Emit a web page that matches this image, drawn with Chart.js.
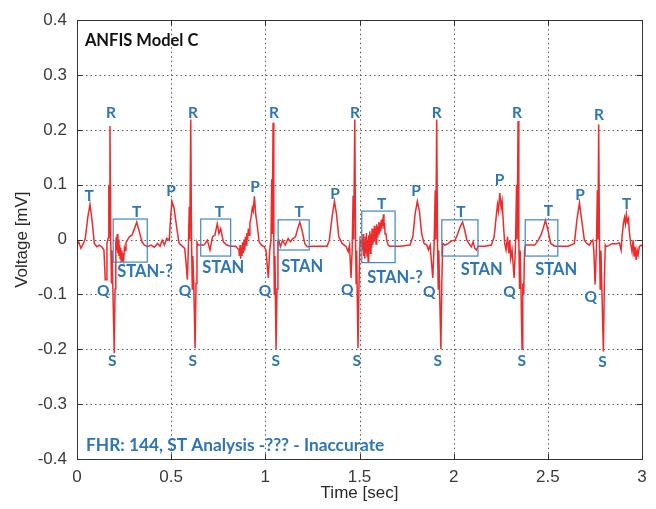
<!DOCTYPE html>
<html>
<head>
<meta charset="utf-8">
<script src="https://cdn.jsdelivr.net/npm/chart.js@4.4.0/dist/chart.umd.min.js"></script>
<style>
  body { margin: 0; background: #fff; }
  canvas { display: block; }
</style>
</head>
<body>
<canvas id="ecg" width="656" height="509"></canvas>
<script>
// axis ticks
const xTicks = [0, 0.5, 1, 1.5, 2, 2.5, 3];
const yTicks = [-0.4, -0.3, -0.2, -0.1, 0, 0.1, 0.2, 0.3, 0.4];

// fetal ECG trace, time in seconds and amplitude in mV
const timeSec = [
  0.000, 0.009, 0.021, 0.034, 0.044, 0.057, 0.069, 0.080, 0.092, 0.105, 0.119, 0.133, 0.143,
  0.150, 0.155, 0.159, 0.166, 0.169, 0.171, 0.175, 0.179, 0.183, 0.186, 0.198, 0.202, 0.206,
  0.209, 0.211, 0.214, 0.217, 0.220, 0.223, 0.226, 0.229, 0.232, 0.235, 0.238, 0.241, 0.244, 0.248, 0.252, 0.256, 0.260,
  0.278, 0.292, 0.305, 0.317, 0.331, 0.345, 0.358, 0.375, 0.393, 0.411, 0.428, 0.441, 0.452, 0.464, 0.476, 0.490, 0.496, 0.504, 0.515, 0.529, 0.542, 0.559, 0.572, 0.579,
  0.586, 0.591, 0.596, 0.599, 0.604, 0.608, 0.612, 0.615, 0.620, 0.627, 0.632, 0.637,
  0.643, 0.657, 0.674, 0.692, 0.706, 0.719, 0.732, 0.745, 0.754, 0.763, 0.777, 0.795, 0.816, 0.843, 0.860,
  0.862, 0.866, 0.869, 0.872, 0.876, 0.879, 0.883, 0.887, 0.890, 0.894, 0.898, 0.902, 0.906, 0.910, 0.914, 0.918, 0.924, 0.931, 0.936, 0.942, 0.949, 0.958, 0.967, 0.979, 0.994, 1.003,
  1.016, 1.023, 1.030, 1.034, 1.037, 1.041, 1.045, 1.048, 1.051, 1.057, 1.062, 1.067,
  1.071, 1.080, 1.092, 1.106, 1.121, 1.133, 1.146, 1.160, 1.172, 1.183, 1.195, 1.209, 1.222, 1.248, 1.284, 1.328, 1.340, 1.354, 1.367, 1.378, 1.390, 1.408, 1.429, 1.440, 1.447,
  1.455, 1.461, 1.466, 1.469, 1.475, 1.479, 1.482, 1.485, 1.492, 1.497, 1.503, 1.510,
  1.512, 1.516, 1.519, 1.522, 1.525, 1.528, 1.531, 1.534, 1.537, 1.540, 1.543, 1.546, 1.549, 1.552, 1.555,
  1.558, 1.561, 1.564, 1.567, 1.570, 1.573, 1.576, 1.579, 1.582, 1.585, 1.588, 1.591, 1.594, 1.597, 1.600,
  1.603, 1.606, 1.609, 1.612, 1.615, 1.618, 1.621, 1.624, 1.627, 1.630, 1.633, 1.636, 1.640, 1.645, 1.652,
  1.662, 1.715, 1.768, 1.783, 1.795, 1.807, 1.818, 1.830, 1.843, 1.857, 1.866, 1.875,
  1.889, 1.896, 1.902, 1.905, 1.910, 1.914, 1.918, 1.921, 1.932, 1.937, 1.942,
  1.954, 1.972, 1.990, 2.008, 2.022, 2.034, 2.047, 2.059, 2.070, 2.087, 2.094, 2.103, 2.112, 2.121, 2.130, 2.165,
  2.200, 2.215, 2.227, 2.233, 2.238, 2.245, 2.252, 2.257, 2.264, 2.271, 2.278, 2.286, 2.293, 2.298, 2.303, 2.310,
  2.321, 2.328, 2.334, 2.337, 2.342, 2.346, 2.350, 2.354, 2.363, 2.367, 2.372, 2.376,
  2.381, 2.404, 2.431, 2.449, 2.463, 2.475, 2.487, 2.501, 2.515, 2.537, 2.608, 2.641, 2.654, 2.668, 2.680, 2.694, 2.707, 2.721, 2.730, 2.739, 2.744,
  2.751, 2.758, 2.763, 2.766, 2.770, 2.774, 2.778, 2.782, 2.795, 2.800, 2.805, 2.809,
  2.827, 2.844, 2.862, 2.880, 2.889, 2.894, 2.901, 2.907, 2.912, 2.917, 2.922, 2.928,
  2.933, 2.940, 2.947, 2.953, 2.958, 2.963, 2.969, 2.974, 2.979, 2.986, 2.995, 3.000
];
const voltageMv = [
  -0.010, -0.004, -0.016, -0.007, 0.002, 0.040, 0.064, 0.035, -0.007, -0.013, -0.010, -0.014, -0.019,
  -0.073, -0.073, -0.007, 0.003, 0.100, 0.005, 0.207, 0.000, -0.080, -0.020, -0.207, -0.090, -0.005,
  0.005, -0.020, 0.010, -0.025, 0.000, -0.030, -0.010, -0.035, -0.015, -0.040, -0.020, -0.038, -0.025, -0.035, -0.015, -0.020, -0.005,
  0.005, 0.008, 0.020, 0.032, 0.014, -0.004, -0.010, -0.013, -0.010, -0.014, -0.007, -0.012, -0.001, -0.010, 0.002, -0.001, 0.035, 0.070, 0.058, 0.023, -0.007, -0.012, -0.016, -0.043,
  -0.073, -0.019, 0.060, 0.000, 0.219, 0.000, -0.090, -0.030, -0.080, -0.198, -0.080, -0.005,
  -0.010, -0.010, -0.010, -0.001, -0.019, 0.005, 0.008, 0.029, 0.011, 0.020, -0.004, -0.010, -0.012, -0.012, -0.019,
  -0.030, -0.010, -0.035, -0.015, -0.030, -0.005, -0.025, 0.000, -0.020, 0.005, -0.010, 0.012, 0.000, 0.020, 0.008, 0.030, 0.040, 0.058, 0.052, 0.079, 0.046, 0.023, -0.004, -0.010, -0.013, -0.019,
  -0.070, -0.020, 0.000, 0.110, 0.010, 0.213, 0.000, -0.100, -0.030, -0.200, -0.090, -0.003,
  -0.001, -0.013, -0.001, -0.010, 0.002, -0.004, 0.002, 0.005, 0.020, 0.032, 0.017, -0.007, -0.013, -0.012, -0.012, -0.012, -0.001, 0.040, 0.070, 0.046, 0.005, -0.007, -0.013, -0.022, -0.010,
  -0.070, -0.019, 0.080, 0.000, 0.219, 0.000, -0.080, -0.020, -0.198, -0.090, 0.000, -0.007,
  0.000, -0.020, 0.010, -0.030, -0.005, -0.035, 0.005, -0.025, 0.012, -0.030, 0.000, -0.040, 0.008, -0.020, 0.015,
  -0.025, 0.010, -0.015, 0.020, -0.010, 0.018, -0.005, 0.025, 0.000, 0.020, -0.008, 0.028, 0.005, 0.025, 0.010,
  0.032, 0.012, 0.030, 0.015, 0.035, 0.020, 0.038, 0.025, 0.046, 0.020, 0.030, 0.010, 0.012, -0.002, -0.010,
  -0.012, -0.012, -0.010, 0.005, 0.046, 0.070, 0.052, 0.011, -0.007, -0.010, -0.019, -0.010,
  -0.070, -0.013, 0.090, 0.000, 0.219, 0.000, -0.090, -0.020, -0.200, -0.080, -0.007,
  -0.010, -0.007, -0.002, -0.001, 0.011, 0.023, 0.032, 0.017, -0.001, -0.010, -0.013, -0.004, -0.016, -0.019, -0.012, -0.012,
  -0.010, 0.005, 0.046, 0.064, 0.052, 0.085, 0.058, 0.070, 0.029, -0.007, -0.019, 0.005, -0.025, -0.001, -0.034, -0.019,
  -0.070, -0.013, 0.100, 0.000, 0.216, 0.000, -0.090, -0.020, -0.200, -0.080, -0.100, -0.020,
  -0.010, -0.010, -0.010, -0.001, 0.008, 0.020, 0.035, 0.017, -0.007, -0.012, -0.012, -0.007, 0.035, 0.067, 0.035, -0.001, -0.007, -0.010, -0.004, -0.001, -0.019,
  -0.082, -0.013, 0.090, 0.000, 0.210, 0.000, -0.090, -0.020, -0.204, -0.080, -0.010, -0.013,
  -0.010, -0.007, -0.008, -0.006, -0.019, 0.005, 0.029, 0.040, 0.029, 0.046, 0.032, 0.038,
  0.014, -0.007, -0.022, -0.001, -0.031, -0.013, -0.037, -0.019, -0.028, -0.013, -0.010, -0.012
];

// wave markers: text, time, voltage
const waveLabels = [
  ['R', 0.181, 0.230], ['R', 0.616, 0.230], ['R', 1.046, 0.230], ['R', 1.476, 0.230],
  ['R', 1.910, 0.230], ['R', 2.336, 0.230], ['R', 2.772, 0.228],
  ['S', 0.187, -0.221], ['S', 0.614, -0.221], ['S', 1.055, -0.221], ['S', 1.485, -0.221],
  ['S', 1.916, -0.221], ['S', 2.362, -0.221], ['S', 2.790, -0.223],
  ['Q', 0.140, -0.093], ['Q', 0.574, -0.093], ['Q', 0.998, -0.093], ['Q', 1.435, -0.091],
  ['Q', 1.871, -0.095], ['Q', 2.296, -0.095], ['Q', 2.728, -0.105],
  ['T', 0.065, 0.080], ['T', 0.317, 0.050], ['T', 0.756, 0.050], ['T', 1.179, 0.050],
  ['T', 1.618, 0.064], ['T', 2.038, 0.050], ['T', 2.503, 0.052], ['T', 2.919, 0.064],
  ['P', 0.499, 0.088], ['P', 0.946, 0.095], ['P', 1.370, 0.083], ['P', 1.800, 0.088],
  ['P', 2.243, 0.108], ['P', 2.671, 0.082]
];
const stanLabels = [
  ['STAN-?', 0.361, -0.059], ['STAN', 0.777, -0.052], ['STAN', 1.196, -0.049],
  ['STAN-?', 1.689, -0.070], ['STAN', 2.149, -0.054], ['STAN', 2.544, -0.055]
];
// ST segment windows: start, end, top, bottom
const stanBoxes = [
  [0.192, 0.373, 0.0375, -0.041],
  [0.657, 0.816, 0.0375, -0.030],
  [1.068, 1.233, 0.036, -0.019],
  [1.512, 1.689, 0.052, -0.042],
  [1.937, 2.129, 0.036, -0.030],
  [2.380, 2.553, 0.036, -0.030]
];

const blue = '#2e75b6';

const framePlugin = {
  id: 'framePlugin',
  beforeDatasetsDraw(chart) {
    const { ctx, chartArea: a, scales: { x, y } } = chart;
    ctx.save();
    ctx.strokeStyle = '#5a5a5a';
    ctx.lineWidth = 1;
    ctx.setLineDash([1.5, 3]);
    xTicks.slice(1, -1).forEach(v => {
      const px = Math.round(x.getPixelForValue(v)) + 0.5;
      ctx.beginPath(); ctx.moveTo(px, a.top); ctx.lineTo(px, a.bottom); ctx.stroke();
    });
    yTicks.slice(1, -1).forEach(v => {
      const py = Math.round(y.getPixelForValue(v)) + 0.5;
      ctx.beginPath(); ctx.moveTo(a.left, py); ctx.lineTo(a.right, py); ctx.stroke();
    });
    ctx.restore();
  },
  afterDatasetsDraw(chart) {
    const { ctx, chartArea: a, scales: { x, y } } = chart;
    ctx.save();
    // axes box with inward ticks
    ctx.strokeStyle = '#333';
    ctx.lineWidth = 1;
    ctx.strokeRect(Math.round(a.left) + 0.5, Math.round(a.top) + 0.5,
      Math.round(a.right - a.left), Math.round(a.bottom - a.top));
    ctx.beginPath();
    xTicks.forEach(v => {
      const px = Math.round(x.getPixelForValue(v)) + 0.5;
      ctx.moveTo(px, a.bottom); ctx.lineTo(px, a.bottom - 5);
      ctx.moveTo(px, a.top); ctx.lineTo(px, a.top + 5);
    });
    yTicks.forEach(v => {
      const py = Math.round(y.getPixelForValue(v)) + 0.5;
      ctx.moveTo(a.left, py); ctx.lineTo(a.left + 5, py);
      ctx.moveTo(a.right, py); ctx.lineTo(a.right - 5, py);
    });
    ctx.stroke();

    // ST windows
    ctx.strokeStyle = '#3d86c6';
    ctx.lineWidth = 1.2;
    stanBoxes.forEach(([t0, t1, top, bot]) => {
      const x0 = x.getPixelForValue(t0), x1 = x.getPixelForValue(t1);
      const y0 = y.getPixelForValue(top), y1 = y.getPixelForValue(bot);
      ctx.strokeRect(x0, y0, x1 - x0, y1 - y0);
    });

    ctx.fillStyle = blue;
    ctx.textAlign = 'center';
    ctx.textBaseline = 'middle';
    ctx.font = 'bold 15.5px Lato';
    waveLabels.forEach(([txt, t, v]) => {
      ctx.fillText(txt, x.getPixelForValue(t), y.getPixelForValue(v));
    });
    ctx.font = 'bold 16.5px Lato';
    stanLabels.forEach(([txt, t, v]) => {
      ctx.fillText(txt, x.getPixelForValue(t), y.getPixelForValue(v));
    });

    ctx.textAlign = 'left';
    ctx.font = 'bold 17.3px Lato';
    ctx.fillText('FHR: 144, ST Analysis -??? - Inaccurate', x.getPixelForValue(0.048), y.getPixelForValue(-0.376));
    ctx.fillStyle = '#111';
    ctx.font = 'bold 16.5px Lato';
    ctx.fillText('ANFIS Model C', x.getPixelForValue(0.042), y.getPixelForValue(0.3625));
    ctx.restore();
  }
};

const axisFont = { family: 'Liberation Sans', size: 17 };

new Chart(document.getElementById('ecg'), {
  type: 'line',
  data: {
    datasets: [{
      data: timeSec.map((t, i) => ({ x: t, y: voltageMv[i] })),
      borderColor: '#ee2a2a',
      borderWidth: 1.5,
      pointRadius: 0,
      tension: 0,
      fill: false
    }]
  },
  options: {
    responsive: false,
    animation: false,
    layout: { padding: { top: 14, right: 14, left: 0, bottom: 0 } },
    plugins: { legend: { display: false }, tooltip: { enabled: false } },
    scales: {
      x: {
        type: 'linear',
        min: 0, max: 3,
        afterBuildTicks: s => { s.ticks = xTicks.map(v => ({ value: v })); },
        afterFit: s => { s.height = 50; },
        grid: { display: false, drawTicks: false },
        border: { display: false },
        ticks: { font: axisFont, color: '#3a3a3a', padding: 8, maxRotation: 0, callback: v => String(v) },
        title: { display: true, text: 'Time [sec]', font: axisFont, color: '#2a2a2a', padding: { top: 0, bottom: 5 } }
      },
      y: {
        min: -0.4, max: 0.4,
        afterBuildTicks: s => { s.ticks = yTicks.map(v => ({ value: v })); },
        afterFit: s => { s.width = 77; },
        grid: { display: false, drawTicks: false },
        border: { display: false },
        ticks: { font: axisFont, color: '#3a3a3a', padding: 10, callback: v => String(v) },
        title: { display: true, text: 'Voltage [mV]', font: axisFont, color: '#2a2a2a', padding: { top: 12, bottom: 0 } }
      }
    }
  },
  plugins: [framePlugin]
});
</script>
</body>
</html>
